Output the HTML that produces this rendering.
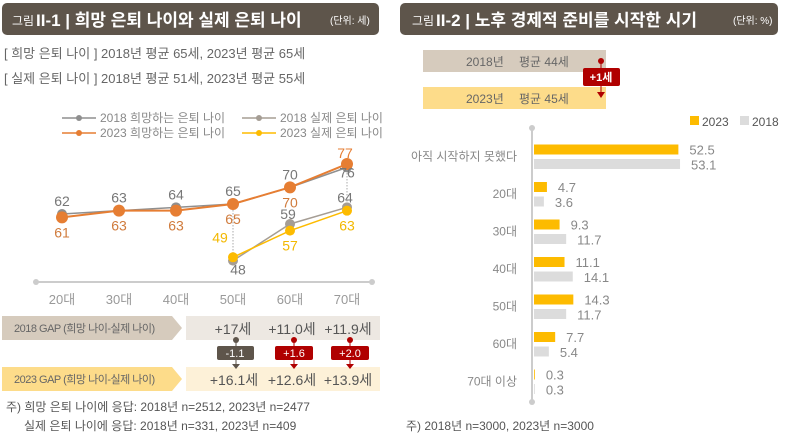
<!DOCTYPE html>
<html><head><meta charset="utf-8">
<style>
body{margin:0;width:786px;height:438px;background:#fff;overflow:hidden;font-family:"Liberation Sans","Noto Sans CJK KR",sans-serif;}
svg text{font-family:"Liberation Sans","Noto Sans CJK KR",sans-serif;}
</style></head>
<body>
<svg width="786" height="438" xmlns="http://www.w3.org/2000/svg" id="root">
<g>
<rect x="2" y="3" width="377" height="32" rx="5" fill="#5e554b"/>
<text x="12" y="25" fill="#fff" font-size="12">그림</text>
<text x="36" y="26" fill="#fff" font-size="17" font-weight="bold">II-1 | 희망 은퇴 나이와 실제 은퇴 나이</text>
<text x="330" y="24" fill="#fff" font-size="10">(단위: 세)</text>
</g>
<text x="4" y="58" fill="#666" font-size="13">[ 희망 은퇴 나이 ] 2018년 평균 65세, 2023년 평균 65세</text>
<text x="4" y="83" fill="#666" font-size="13">[ 실제 은퇴 나이 ] 2018년 평균 51세, 2023년 평균 55세</text>
<g id="legendL" font-size="12" fill="#888"></g>
<g id="lineChart"></g>
<g>
<polygon points="2,316 172,316 182,328 172,340 2,340" fill="#d6cbbd"/>
<text x="14" y="332" font-size="11" fill="#666" letter-spacing="-0.5">2018 GAP (희망 나이-실제 나이)</text>
<rect x="186" y="316" width="194" height="24" fill="#ede8e2"/>
<text x="233" y="334" font-size="14" fill="#555" text-anchor="middle">+17세</text>
<text x="292" y="334" font-size="14" fill="#555" text-anchor="middle">+11.0세</text>
<text x="348" y="334" font-size="14" fill="#555" text-anchor="middle">+11.9세</text>
<polygon points="2,367 172,367 182,379 172,391 2,391" fill="#fddc8a"/>
<text x="14" y="383" font-size="11" fill="#666" letter-spacing="-0.5">2023 GAP (희망 나이-실제 나이)</text>
<rect x="186" y="367" width="194" height="24" fill="#fdf1d8"/>
<text x="234" y="385" font-size="14" fill="#555" text-anchor="middle">+16.1세</text>
<text x="292" y="385" font-size="14" fill="#555" text-anchor="middle">+12.6세</text>
<text x="348" y="385" font-size="14" fill="#555" text-anchor="middle">+13.9세</text>
<g>
<circle cx="236" cy="340" r="3" fill="#5e554b"/><line x1="236" y1="340" x2="236" y2="366" stroke="#5e554b"/>
<rect x="217" y="346" width="37" height="14" rx="2" fill="#5e554b"/><polygon points="232,364 240,364 236,369" fill="#5e554b"/>
<text x="235" y="357" font-size="11" fill="#fff" text-anchor="middle">-1.1</text></g>
<g>
<circle cx="294" cy="340" r="3" fill="#b00000"/><line x1="294" y1="340" x2="294" y2="366" stroke="#b00000"/>
<rect x="275" y="346" width="38" height="14" rx="2" fill="#b00000"/><polygon points="290,364 298,364 294,369" fill="#b00000"/>
<text x="294" y="357" font-size="11" fill="#fff" text-anchor="middle">+1.6</text></g>
<g>
<circle cx="350" cy="340" r="3" fill="#b00000"/><line x1="350" y1="340" x2="350" y2="366" stroke="#b00000"/>
<rect x="331" y="346" width="38" height="14" rx="2" fill="#b00000"/><polygon points="346,364 354,364 350,369" fill="#b00000"/>
<text x="350" y="357" font-size="11" fill="#fff" text-anchor="middle">+2.0</text></g>
</g>
<text x="6" y="411" font-size="12" fill="#555">주) 희망 은퇴 나이에 응답: 2018년 n=2512, 2023년 n=2477</text>
<text x="24" y="430" font-size="12" fill="#555">실제 은퇴 나이에 응답: 2018년 n=331, 2023년 n=409</text>

<g>
<rect x="400" y="3" width="378" height="32" rx="5" fill="#5e554b"/>
<text x="412" y="25" fill="#fff" font-size="12">그림</text>
<text x="436" y="26" fill="#fff" font-size="17" font-weight="bold">II-2 |  노후 경제적 준비를 시작한 시기</text>
<text x="733" y="24" fill="#fff" font-size="10">(단위: %)</text>
</g>
<g>
<rect x="423" y="50" width="183" height="22" fill="#d6cbbd"/>
<text x="466" y="66" font-size="12" fill="#666">2018년</text><text x="519" y="66" font-size="12" fill="#666">평균 44세</text>
<rect x="423" y="87" width="183" height="22" fill="#fddc8a"/>
<text x="466" y="103" font-size="12" fill="#666">2023년</text><text x="519" y="103" font-size="12" fill="#666">평균 45세</text>
<circle cx="601" cy="61" r="3" fill="#b00000"/><line x1="601" y1="61" x2="601" y2="95" stroke="#b00000"/>
<rect x="583" y="68" width="37" height="18" rx="2" fill="#b00000"/>
<polygon points="597,92 605,92 601,98" fill="#b00000"/>
<text x="601" y="81" font-size="11" fill="#fff" font-weight="bold" text-anchor="middle">+1세</text>
</g>
<g>
<rect x="690" y="116" width="9" height="9" fill="#fdbb00"/><text x="702" y="126" font-size="12" fill="#555">2023</text>
<rect x="740" y="116" width="9" height="9" fill="#dcdcdc"/><text x="752" y="126" font-size="12" fill="#555">2018</text>
</g>
<g id="barChart"></g>
<text x="406" y="430" font-size="12" fill="#555">주) 2018년 n=3000, 2023년 n=3000</text>
</svg>
<script>
const NS="http://www.w3.org/2000/svg";
function mk(tag,attrs,parent,txt){const e=document.createElementNS(NS,tag);for(const k in attrs)e.setAttribute(k,attrs[k]);if(txt!==undefined)e.textContent=txt;parent.appendChild(e);return e;}

const ageGroups=["20대","30대","40대","50대","60대","70대"];
const hope2018=[62,63,64,65,70,76];
const hope2023=[61,63,63,65,70,77];
const actual2018=[null,null,null,48,59,64];
const actual2023=[null,null,null,49,57,63];

const xL=i=>62+i*57;
const yL=v=>204+(65-v)*3.33;
const lc=document.getElementById('lineChart');
const ax=mk('line',{x1:36,y1:282,x2:372,y2:282,stroke:'#ccc','stroke-width':2},lc);


mk('circle',{cx:36,cy:282,r:3,fill:'#ccc'},lc);mk('circle',{cx:372,cy:282,r:3,fill:'#ccc'},lc);
ageGroups.forEach((g,i)=>{const t=mk('text',{x:xL(i),y:304,'font-size':13,fill:'#999','text-anchor':'middle'},lc,g);

});
[3,5].forEach(i=>{mk('line',{x1:xL(i),y1:yL(hope2023[i]),x2:xL(i),y2:yL(Math.min(actual2018[i],actual2023[i])),stroke:'#aaa','stroke-dasharray':'1.5,1.5'},lc);});
const series=[
 {d:actual2018,c:'#a59d94',name:'series-2018-actual',w:1.5,r:5},
 {d:actual2023,c:'#fdbb00',name:'series-2023-actual',w:1.5,r:5},
 {d:hope2018,c:'#8f8f8f',name:'series-2018-hope',w:1.5,r:5},
 {d:hope2023,c:'#e67e33',name:'series-2023-hope',w:2,r:6},
];
series.forEach(s=>{const pts=[];s.d.forEach((v,i)=>{if(v!==null)pts.push(xL(i)+','+yL(v));});
 const p=mk('polyline',{points:pts.join(' '),fill:'none',stroke:s.c,'stroke-width':s.w},lc);
 
 
 s.d.forEach((v,i)=>{if(v===null)return;const c=mk('circle',{cx:xL(i),cy:yL(v),r:s.r,fill:s.c},lc);
 
 });});
hope2018.forEach((v,i)=>{const dy=i==5?-4:-8;mk('text',{x:xL(i),y:yL(v)+dy+(i==5?14:0),'font-size':14,fill:'#777','text-anchor':'middle'},lc,v);});
hope2023.forEach((v,i)=>{let y=yL(v)+20;if(i==5)y=yL(v)-6;mk('text',{x:xL(i)+(i==5?-2:0),y:y,'font-size':14,fill:i==5?'#e67e33':'#d07b3c','text-anchor':'middle'},lc,v);});
actual2018.forEach((v,i)=>{if(v===null)return;let y=i==3?yL(v)+14:yL(v)-5;mk('text',{x:xL(i)+(i==3?5:-2),y:y,'font-size':14,fill:'#777','text-anchor':'middle'},lc,v);});
actual2023.forEach((v,i)=>{if(v===null)return;let y=i==3?yL(v)-15:yL(v)+20;mk('text',{x:xL(i)-(i==3?13:0),y:y,'font-size':14,fill:'#f3b800','text-anchor':'middle'},lc,v);});
const lg=document.getElementById('legendL');
[[62,122,'#8f8f8f','2018 희망하는 은퇴 나이'],[242,122,'#a59d94','2018 실제 은퇴 나이'],[62,137,'#e67e33','2023 희망하는 은퇴 나이'],[242,137,'#fdbb00','2023 실제 은퇴 나이']].forEach(a=>{
 const g=mk('g',{},lg);
 
 
 mk('line',{x1:a[0],y1:a[1]-4,x2:a[0]+34,y2:a[1]-4,stroke:a[2],'stroke-width':1.5},g);
 mk('circle',{cx:a[0]+17,cy:a[1]-4,r:3,fill:a[2]},g);
 mk('text',{x:a[0]+38,y:a[1],'font-size':12,fill:'#888'},g,a[3]);});

const startCats=["아직 시작하지 못했다","20대","30대","40대","50대","60대","70대 이상"];
const v2023=[52.5,4.7,9.3,11.1,14.3,7.7,0.3];
const v2018=[53.1,3.6,11.7,14.1,11.7,5.4,0.3];
const x0=534, xs=v=>x0+v*2.75, yc=i=>156.5+i*37.5;
const bc=document.getElementById('barChart');
mk('line',{x1:532,y1:128,x2:532,y2:402,stroke:'#ccc','stroke-width':2},bc);
mk('circle',{cx:532,cy:128,r:3,fill:'#ccc'},bc);mk('circle',{cx:532,cy:402,r:3,fill:'#ccc'},bc);
startCats.forEach((c,i)=>{const t=mk('text',{x:517,y:yc(i)+4,'font-size':12,fill:'#888','text-anchor':'end'},bc,c);
 
 
 const b1=mk('rect',{x:x0,y:yc(i)-12,width:xs(v2023[i])-x0,height:10,fill:'#fdbb00'},bc);
 
 
 const b2=mk('rect',{x:x0,y:yc(i)+2.5,width:xs(v2018[i])-x0,height:10,fill:'#dcdcdc'},bc);
 
 
 mk('text',{x:xs(v2023[i])+11,y:yc(i)-2,'font-size':13,fill:'#888'},bc,v2023[i].toFixed(1));
 mk('text',{x:xs(v2018[i])+11,y:yc(i)+13,'font-size':13,fill:'#888'},bc,v2018[i].toFixed(1));
});
</script>
</body></html>
